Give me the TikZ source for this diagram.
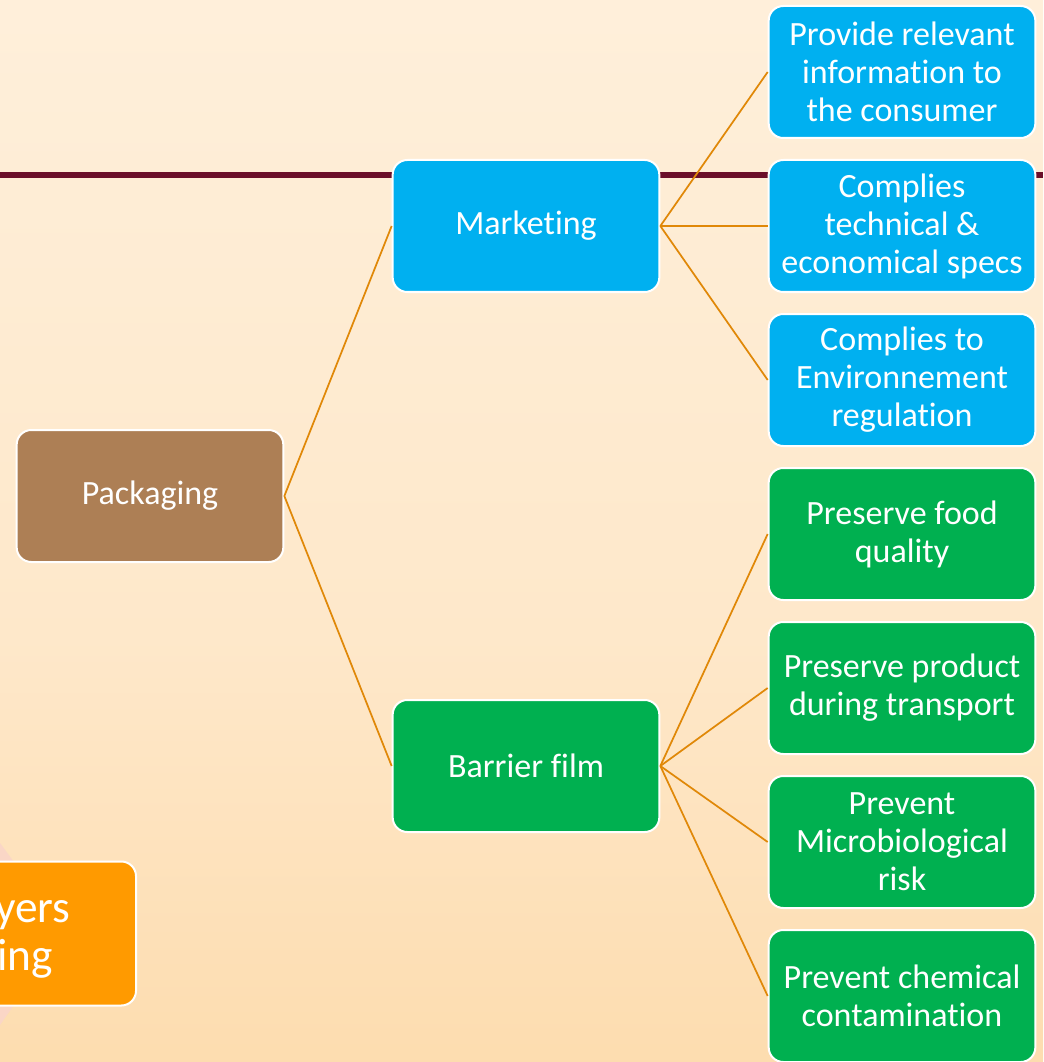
\documentclass[tikz,border=0pt]{standalone}
\usepackage{fontspec}
\setmainfont{Carlito}[Ligatures=NoCommon]
\definecolor{bgtop}{RGB}{255,245,232}
\definecolor{bgmid}{RGB}{254,232,202}
\definecolor{bgbot}{RGB}{252,206,142}
\definecolor{mktblue}{HTML}{00B0F0}
\definecolor{filmgreen}{HTML}{00B050}
\definecolor{packbrown}{RGB}{173,127,85}
\definecolor{layerorange}{HTML}{FF9A00}
\definecolor{linkorange}{RGB}{224,136,8}
\definecolor{rulemaroon}{RGB}{107,15,42}
\definecolor{shadowpink}{RGB}{250,214,198}
\pgfdeclareverticalshading{bgshade}{100bp}{color(0bp)=(bgbot); color(45bp)=(bgmid); color(100bp)=(bgtop)}
\begin{document}
\begin{tikzpicture}[x=0.75pt,y=-0.75pt,
    box/.style={draw=white, line width=1.5pt, rounded corners=11pt, minimum width=200pt,
      minimum height=99pt, inner sep=1pt, text=white, align=center,
      font=\fontsize{25.5}{28.5}\selectfont},
    link/.style={draw=linkorange, line width=1.3pt}]
    \useasboundingbox (0,0) rectangle (1043,1062);
    \clip (0,0) rectangle (1043,1062);
    \shade[shading=bgshade] (0,0) rectangle (1043,1062);
    % rule across the slide
    \draw[rulemaroon, line width=5.2pt] (0,175) -- (1043,175);
    % cut-off box at the bottom left
    \fill[shadowpink] (0,843) -- (14,862) -- (14,1005) -- (0,1025) -- cycle;
    \node[box, fill=layerorange, minimum width=253pt, minimum height=108pt, anchor=east] (layers) at (137,933.5) {};
    \node[anchor=base west, text=white, font=\fontsize{34}{40}\selectfont, inner sep=0pt] (layers1) at (-5,922) {yers};
    \node[anchor=base west, text=white, font=\fontsize{34}{40}\selectfont, inner sep=0pt] (layers2) at (-3,970) {ing};
    % tree
    \node[box, fill=packbrown] (pack) at (150,496) {Packaging};
    \node[box, fill=mktblue] (mkt) at (526,226) {Marketing};
    \node[box, fill=filmgreen] (film) at (526,766) {Barrier film};
    \foreach \n/\y/\c/\t in {1/72/mktblue/{Provide relevant\\information to\\the consumer},
            2/226/mktblue/{Complies\\technical \&\\economical specs},
            3/380/mktblue/{Complies to\\Environnement\\regulation},
            4/534/filmgreen/{Preserve food\\quality},
            5/688/filmgreen/{Preserve product\\during transport},
            6/842/filmgreen/{Prevent\\Microbiological\\risk},
            7/996/filmgreen/{Prevent chemical\\contamination}}
      \node[box, fill=\c] (c\n) at (902,\y) {\t};
    \draw[link] (pack.east) -- (mkt.west);
    \draw[link] (pack.east) -- (film.west);
    \foreach \n in {1,2,3}
      \draw[link] (mkt.east) -- (c\n.west);
    \foreach \n in {4,...,7}
      \draw[link] (film.east) -- (c\n.west);
  \end{tikzpicture}
\end{document}
